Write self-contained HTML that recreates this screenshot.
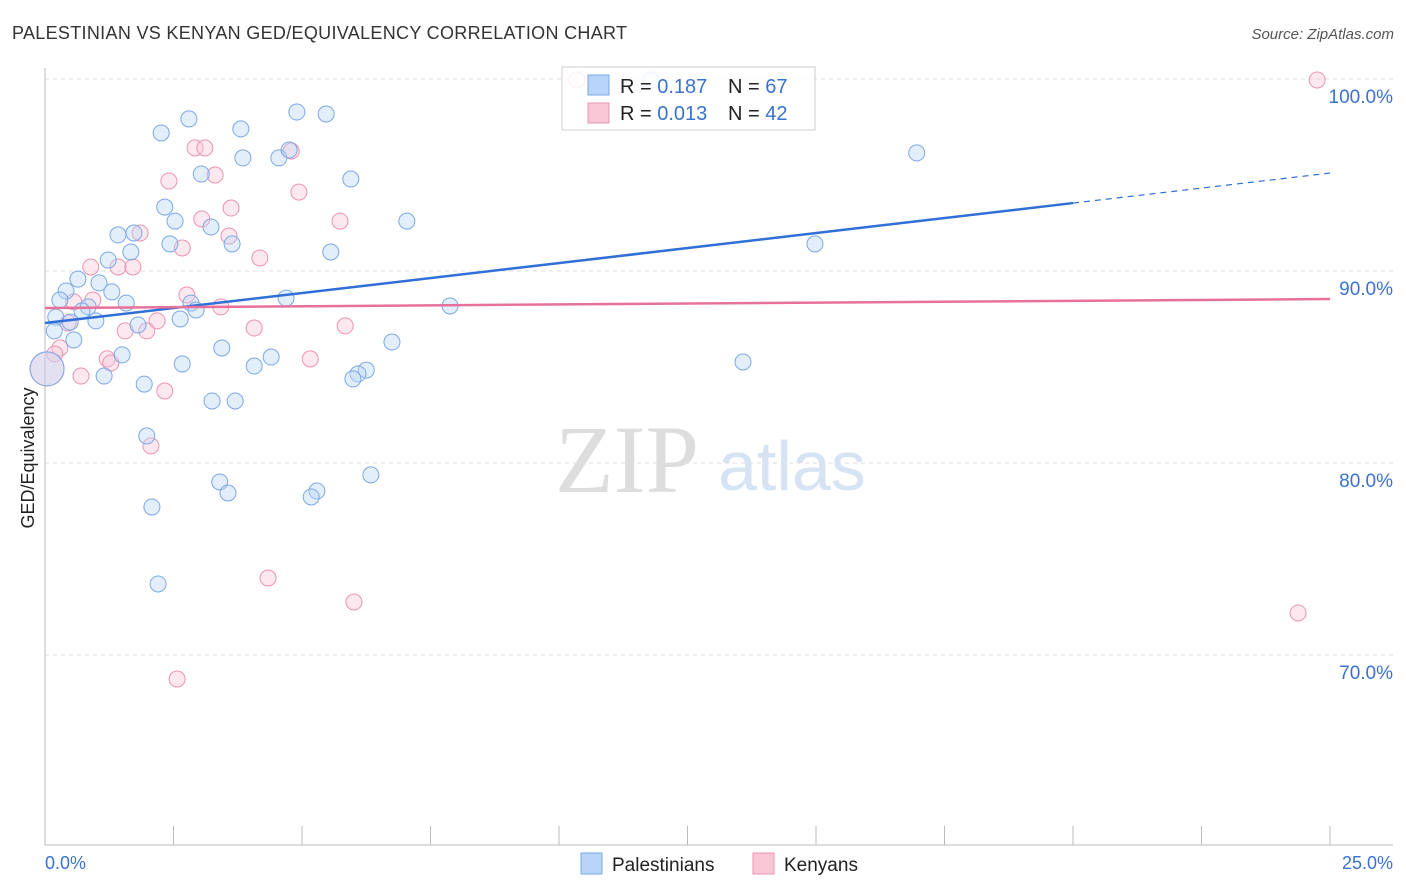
<!DOCTYPE html>
<html><head><meta charset="utf-8"><style>
body{margin:0;background:#fff;font-family:"Liberation Sans",sans-serif;}
svg{display:block}
</style></head><body>
<svg id="chart" width="1406" height="892" xmlns="http://www.w3.org/2000/svg">
<text x="12" y="39" font-size="18" fill="#333" textLength="615">PALESTINIAN VS KENYAN GED/EQUIVALENCY CORRELATION CHART</text>
<text x="1394" y="39" font-size="15" fill="#555" font-style="italic" text-anchor="end">Source: ZipAtlas.com</text>
<g id="grid"></g>
<g id="axes"></g>
<text x="555" y="492" font-size="96" fill="#ddd" font-family="Liberation Serif,serif">ZIP</text>
<text x="718" y="490" font-size="70" fill="#d6e3f3">atlas</text>
<g id="points"></g>
<g id="trends"></g>
<text transform="translate(34,458) rotate(-90)" font-size="18" fill="#222" text-anchor="middle">GED/Equivalency</text>
<g>
<rect x="562" y="67" width="253" height="63" fill="#fff" fill-opacity="0.85" stroke="#ccc"/>
<rect x="588" y="75" width="21" height="20" fill="#b8d4f6" stroke="#7aa8e6"/>
<rect x="588" y="103" width="21" height="20" fill="#f9c6d6" stroke="#eb93b1"/>
<text x="620" y="93" font-size="20" fill="#222">R = <tspan fill="#3a72d0">0.187</tspan></text>
<text x="728" y="93" font-size="20" fill="#222">N = <tspan fill="#3a72d0">67</tspan></text>
<text x="620" y="120" font-size="20" fill="#222">R = <tspan fill="#3a72d0">0.013</tspan></text>
<text x="728" y="120" font-size="20" fill="#222">N = <tspan fill="#3a72d0">42</tspan></text>
</g>
<g>
<rect x="581" y="853" width="21" height="21" fill="#b8d4f6" stroke="#7aa8e6"/>
<text x="612" y="871" font-size="19" fill="#222">Palestinians</text>
<rect x="753" y="853" width="21" height="21" fill="#f9c6d6" stroke="#eb93b1"/>
<text x="784" y="871" font-size="19" fill="#222">Kenyans</text>
</g>
</svg>
<script>
const blueX=[11.79,4.90,5.47,2.80,2.26,3.81,3.85,4.55,4.75,16.96,5.95,3.04,2.33,7.04,2.53,3.23,1.42,1.73,2.43,3.64,1.67,5.56,14.98,1.23,0.64,1.05,0.41,1.30,0.29,4.69,1.58,2.84,0.84,2.94,7.88,0.72,0.21,0.49,0.99,2.63,1.81,0.18,0.56,3.44,6.75,1.50,4.40,2.67,4.07,13.58,6.25,6.09,5.99,1.15,1.93,3.25,3.70,1.98,3.40,6.34,3.56,5.29,5.18,2.08,2.20,0.04];
const blueY=[99.95,98.28,98.18,97.92,97.19,97.40,95.89,95.89,96.30,96.15,94.79,95.05,93.33,92.60,92.60,92.29,91.88,91.98,91.41,91.41,90.99,90.99,91.41,90.57,89.58,89.38,88.96,88.91,88.49,88.59,88.33,88.33,88.13,87.97,88.18,87.92,87.60,87.34,87.40,87.50,87.19,86.88,86.41,85.99,86.30,85.63,85.52,85.16,85.05,85.26,84.84,84.64,84.38,84.53,84.11,83.23,83.23,81.41,79.01,79.38,78.44,78.54,78.23,77.71,73.70,84.90];
const pinkX=[10.35,24.75,2.92,3.11,4.79,3.31,2.41,4.94,3.62,3.05,5.74,1.85,2.67,3.58,4.18,0.89,1.42,1.71,2.76,0.56,0.93,3.42,0.45,2.18,5.84,4.07,1.56,1.98,0.29,1.21,1.28,5.16,0.19,0.70,2.33,2.06,4.34,6.01,24.38,2.57,0.04];
const pinkY=[99.95,99.95,96.41,96.41,96.25,95.0,94.69,94.11,93.28,92.71,92.60,91.98,91.20,91.82,90.68,90.21,90.21,90.21,88.75,88.39,88.49,88.13,87.29,87.40,87.14,87.03,86.88,86.88,85.99,85.42,85.21,85.42,85.68,84.53,83.75,80.89,74.01,72.76,72.19,68.75,84.90];
const yTicks=[100,90,80,70];
const yTickLabels=["100.0%","90.0%","80.0%","70.0%"];
const xTickLabels=["0.0%","25.0%"];
const blueTrend=[87.29,95.1];
const pinkTrend=[88.07,88.54];
const NS="http://www.w3.org/2000/svg";
const sx=v=>45+v/25*1285;
const sy=v=>79+(100-v)*19.2;
function mk(tag,attrs,parent){const e=document.createElementNS(NS,tag);for(const k in attrs)e.setAttribute(k,attrs[k]);parent.appendChild(e);return e;}
const grid=document.getElementById('grid'),axes=document.getElementById('axes'),pts=document.getElementById('points'),tr=document.getElementById('trends');
yTicks.forEach((t,i)=>{
 const l=mk('line',{x1:45,x2:1393,y1:sy(t),y2:sy(t),stroke:'#ddd','stroke-dasharray':'4,4'},grid);
 
 
 const tx=mk('text',{x:1393,y:sy(t)+24,'font-size':19,fill:'#3a72d0','text-anchor':'end'},axes);
 tx.textContent=yTickLabels[i];
 
 
});
mk('line',{x1:45,x2:45,y1:68,y2:845,stroke:'#bbb'},axes);
mk('line',{x1:45,x2:1393,y1:845,y2:845,stroke:'#bbb'},axes);
for(let i=0;i<=10;i++){const x=45+i*128.5;mk('line',{x1:x,x2:x,y1:826,y2:845,stroke:'#bbb'},axes);}
[[45,'start'],[1393,'end']].forEach((p,i)=>{
 const t=mk('text',{x:p[0],y:869,'font-size':18,fill:'#3a72d0','text-anchor':p[1]},axes);
 t.textContent=xTickLabels[i];
 
 
});
function draw(xs,ys,fill,stroke,name){
 xs.forEach((x,i)=>{
  const big=(i===xs.length-1);
  const c=mk('circle',{cx:sx(x),cy:sy(ys[i]),r:big?17:8,fill:fill,'fill-opacity':0.4,stroke:stroke,'stroke-width':1},pts);
  
  
 });
}
draw(pinkX,pinkY,'#f9c6d6','#eb93b1','kenyan-point');
draw(blueX,blueY,'#b8d4f6','#7aa8e6','palestinian-point');
const bx=20,by=blueTrend[0]+(blueTrend[1]-blueTrend[0])*bx/25;
const b1=mk('line',{x1:sx(0),y1:sy(blueTrend[0]),x2:sx(bx),y2:sy(by),stroke:'#2f6fd6','stroke-width':2.5},tr);


const b2=mk('line',{x1:sx(bx),y1:sy(by),x2:sx(25),y2:sy(blueTrend[1]),stroke:'#2f6fd6','stroke-width':1.2,'stroke-dasharray':'6,5'},tr);


const p1=mk('line',{x1:sx(0),y1:sy(pinkTrend[0]),x2:sx(25),y2:sy(pinkTrend[1]),stroke:'#e8719b','stroke-width':2.5},tr);


</script>
</body></html>
